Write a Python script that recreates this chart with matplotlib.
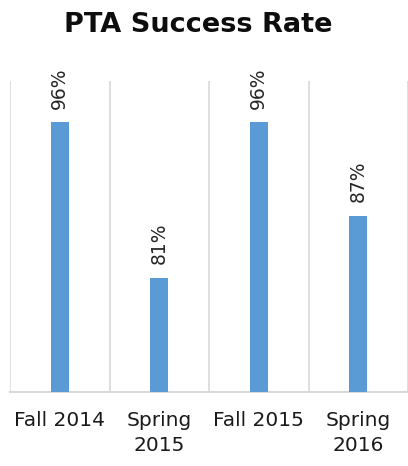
import matplotlib
matplotlib.use("Agg")
import matplotlib.pyplot as plt
import numpy as np

# data
terms = ["Fall 2014", "Spring\n2015", "Fall 2015", "Spring\n2016"]
success_rate = [0.96, 0.81, 0.96, 0.87]
labels = ["96%", "81%", "96%", "87%"]

fig = plt.figure(figsize=(4.08, 4.66), dpi=100)
ax = fig.add_axes([10 / 408, 1 - 392 / 466, 398 / 408, (392 - 81) / 466])

x = np.arange(len(terms))
bars = ax.bar(x, success_rate, width=0.18, color="#5B9BD5", zorder=3)

for b, lab in zip(bars, labels):
    ax.annotate(lab, (b.get_x() + b.get_width() / 2, b.get_height()),
                xytext=(0, 10), textcoords="offset points",
                ha="center", va="bottom", rotation=90,
                fontsize=13.5, color="#262626")

ax.set_ylim(0.70, 1.00)
ax.set_xlim(-0.5, len(terms) - 0.5)
ax.set_yticks([])
ax.set_xticks(x)
ax.set_xticklabels(terms, fontsize=14.5, color="#1a1a1a", linespacing=1.4)
ax.tick_params(axis="x", length=0, pad=14)

# category separators
ax.set_xticks(np.arange(-0.5, len(terms)), minor=True)
ax.tick_params(axis="x", which="minor", length=0)
ax.grid(which="minor", axis="x", color="#d9d9d9", linewidth=1.2, zorder=0)

for s in ["top", "left", "right"]:
    ax.spines[s].set_visible(False)
ax.spines["bottom"].set_color("#d9d9d9")
ax.spines["bottom"].set_linewidth(1.5)

fig.text(198 / 408, 1 - 25 / 466, "PTA Success Rate", ha="center", va="center",
         fontsize=19.5, fontweight="bold", color="#0d0d0d")

fig.savefig("out.png", dpi=100)
